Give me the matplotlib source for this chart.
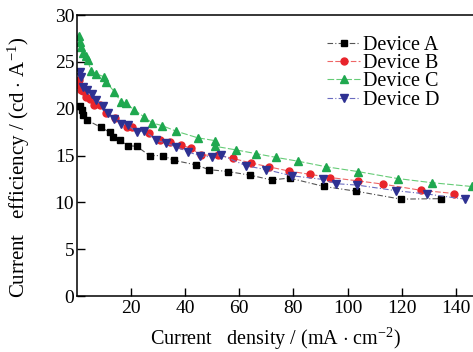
import matplotlib
matplotlib.use("Agg")
import matplotlib.pyplot as plt

plt.rcParams['font.family'] = ['Liberation Serif', 'DejaVu Serif']
plt.rcParams['mathtext.fontset'] = 'custom'
plt.rcParams['mathtext.rm'] = 'Liberation Serif'
plt.rcParams['mathtext.it'] = 'Liberation Serif:italic'

# Device A
a_x = [1.1, 1.7, 2.3, 3.6, 8.9, 12.0, 13.4, 15.9, 18.7, 22.0, 26.8, 31.7, 35.7, 44.1,
       48.7, 55.8, 64.1, 71.9, 78.6, 91.3, 103.1, 119.7, 134.7]
a_y = [20.3, 19.85, 19.3, 18.8, 18.0, 17.5, 17.0, 16.65, 16.05, 16.0, 15.0, 15.0, 14.5, 14.0,
       13.5, 13.3, 12.9, 12.4, 12.6, 11.7, 11.2, 10.35, 10.4]
# Device B
b_x = [0.6, 0.6, 1.5, 2.1, 3.3, 4.6, 6.4, 8.3, 10.7, 14.2, 18.5, 20.4, 26.5, 30.5, 34.4,
       38.5, 42.1, 45.9, 52.1, 57.6, 64.4, 70.9, 78.3, 86.0, 93.7, 103.9, 113.1, 127.0, 139.4]
b_y = [23.05, 22.5, 22.0, 21.9, 21.3, 21.0, 20.4, 20.4, 19.6, 19.0, 18.1, 18.1, 17.4, 16.7, 16.5,
       16.1, 15.8, 15.05, 15.05, 14.7, 14.2, 13.8, 13.35, 13.0, 12.65, 12.3, 11.95, 11.3, 10.95]
# Device C
c_x = [0.7, 1.1, 1.5, 2.1, 3.3, 3.9, 5.2, 7.0, 10.1, 10.7, 13.8, 16.3, 18.1, 21.2, 24.7,
       27.7, 31.4, 36.7, 44.6, 50.9, 50.9, 58.9, 66.3, 73.7, 81.7, 92.2, 103.7, 118.5, 131.3, 145.9]
c_y = [27.75, 27.1, 26.6, 26.0, 25.6, 25.2, 24.0, 23.75, 23.4, 22.9, 21.8, 20.7, 20.6, 19.85, 19.15,
       18.5, 18.2, 17.6, 16.9, 16.6, 16.0, 15.6, 15.2, 14.8, 14.4, 13.8, 13.3, 12.55, 12.1, 11.7]
# Device D
d_x = [1.1, 1.5, 2.1, 3.6, 5.6, 7.0, 9.5, 11.3, 13.8, 16.3, 18.7, 22.1, 24.9, 29.3, 33.0,
       36.7, 41.0, 45.6, 50.0, 53.3, 62.6, 70.0, 79.3, 91.0, 95.7, 103.6, 117.9, 129.3, 143.4]
d_y = [23.9, 23.4, 22.3, 22.05, 21.6, 20.9, 20.3, 19.5, 18.95, 18.4, 18.25, 17.5, 17.65, 16.65, 16.3,
       15.95, 15.4, 14.95, 14.85, 15.05, 13.9, 13.5, 12.85, 12.45, 12.0, 11.85, 11.25, 10.9, 10.35]

labels = ["Device A", "Device B", "Device C", "Device D"]
x_ticks = [20, 40, 60, 80, 100, 120, 140]
y_ticks = [0, 5, 10, 15, 20, 25, 30]

fig = plt.figure(figsize=(4.73, 3.52), dpi=100)
ax = fig.add_axes([0.163, 0.159, 0.837, 0.798])

series = [
    (a_x, a_y, 's', '#000000', '#555555', (0, (5, 2, 1, 2)), 4.2),
    (b_x, b_y, 'o', '#e8242b', '#ee6666', (0, (5, 2)), 5.0),
    (c_x, c_y, '^', '#1fa84f', '#66cc77', (0, (6, 2)), 5.6),
    (d_x, d_y, 'v', '#2e3192', '#6a6cc0', (0, (5, 2, 1, 2)), 5.6),
]
for (x, y, m, mc, lc, ls, ms), lab in zip(series, labels):
    ax.plot(x, y, color=lc, linestyle=ls, linewidth=0.8, marker=m, markersize=ms,
            markerfacecolor=mc, markeredgecolor=mc, label=lab)

ax.set_xlim(0, 146.4)
ax.set_ylim(0, 30)
ax.set_xticks(x_ticks)
ax.set_yticks(y_ticks)
ax.tick_params(direction='in', length=5.5, width=1, labelsize=14, pad=3)
ax.tick_params(axis='y', pad=2)
ax.spines['right'].set_visible(False)
for s in ['left', 'bottom', 'top']:
    ax.spines[s].set_linewidth(1.1)

ax.set_xlabel(r"Current   density / (mA $\cdot$ cm$^{-2}$)", fontsize=14.5, labelpad=6)
ax.set_ylabel(r"Current   efficiency / (cd $\cdot$ A$^{-1}$)", fontsize=15)
ax.yaxis.set_label_coords(-0.115, 0.457)

leg = ax.legend(loc='upper left', bbox_to_anchor=(0.631, 0.925), frameon=False, fontsize=14.5,
                handlelength=1.65, handletextpad=0.15, labelspacing=-0.05, borderpad=0,
                borderaxespad=0)

fig.savefig("out.png", dpi=100)
